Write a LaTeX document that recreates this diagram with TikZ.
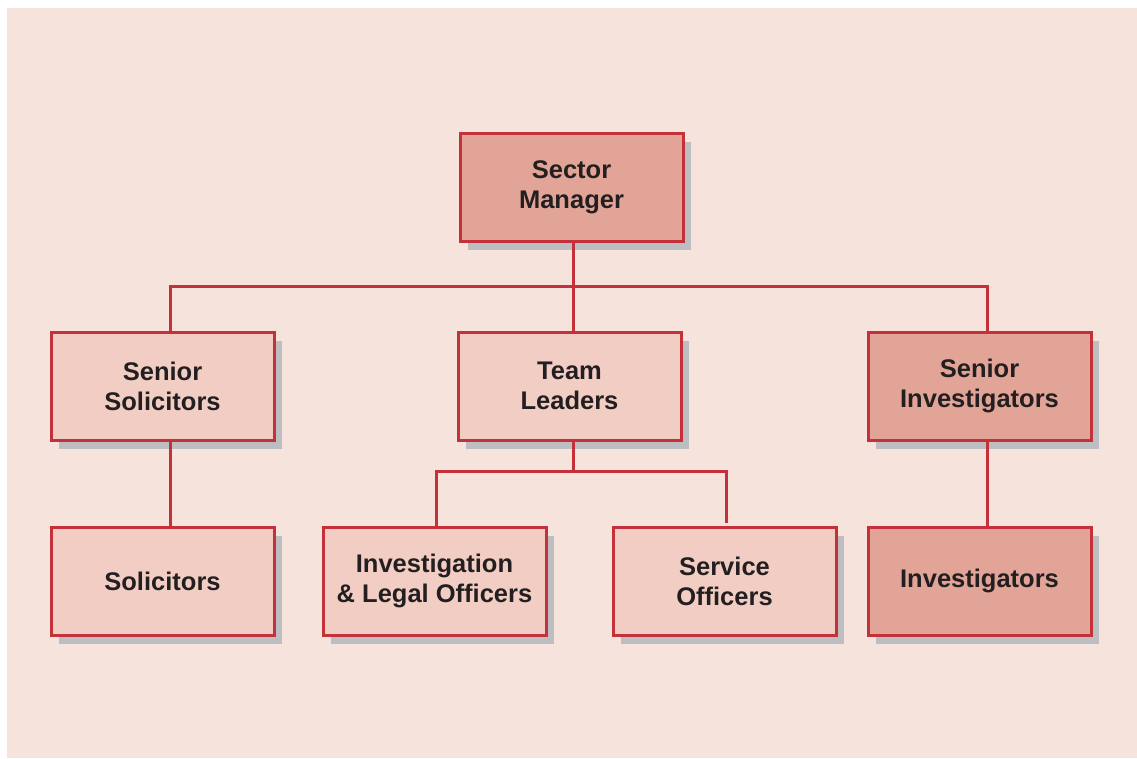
\documentclass[tikz,border=0pt]{standalone}
\usepackage{fontspec}
\setmainfont{Liberation Sans}
\usetikzlibrary{shadows}
\definecolor{bgpink}{HTML}{F5E3DC}
\definecolor{boxred}{HTML}{C4313B}
\definecolor{darkfill}{HTML}{E2A497}
\definecolor{lightfill}{HTML}{F2CDC3}
\definecolor{shadowgray}{HTML}{BCBEC2}
\definecolor{txt}{HTML}{231F20}
\tikzset{
  orgbox/.style={draw=boxred, line width=3pt, minimum width=223pt, minimum height=108pt,
    align=center, inner sep=0pt, text=txt,
    font=\fontsize{25.5}{30}\selectfont\bfseries,
    general shadow={fill=shadowgray, shadow xshift=8pt, shadow yshift=-9pt}},
  darkbox/.style={orgbox, fill=darkfill},
  lightbox/.style={orgbox, fill=lightfill},
  conn/.style={draw=boxred, line width=3pt}
}
\begin{document}
\begin{tikzpicture}[x=1pt,y=-1pt]
\useasboundingbox (0,0) rectangle (1137,758);
\fill[bgpink] (7,8) rectangle (1137,758);
\node[darkbox]  (sm)  at (571.5,187) {Sector\\Manager};
\node[lightbox] (ss)  at (162.5,386) {Senior\\Solicitors};
\node[lightbox] (tl)  at (569.5,386) {Team\\Leaders};
\node[darkbox]  (si)  at (979.5,386) {Senior\\Investigators};
\node[lightbox] (so)  at (162.5,581) {Solicitors};
\node[lightbox] (ilo) at (434.5,581) {Investigation\\\& Legal Officers};
\node[lightbox] (svo) at (724.5,581) {Service\\Officers};
\node[darkbox]  (inv) at (979.5,581) {Investigators};
\coordinate (j1) at (573,286);
\coordinate (j2) at (573,471);
\coordinate (svoend) at (726,523);
\draw[conn] ([xshift=1.5pt]sm.south) -- (j1);
\draw[conn] (j1) -| ([xshift=7.5pt]ss.north);
\draw[conn] (j1) -| ([xshift=7.5pt]si.north);
\draw[conn] (j1) -- (j1 |- tl.north);
\draw[conn] ([xshift=7.5pt]ss.south) -- ([xshift=7.5pt]so.north);
\draw[conn] ([xshift=7.5pt]si.south) -- ([xshift=7.5pt]inv.north);
\draw[conn] (j2 |- tl.south) -- (j2);
\draw[conn] (j2) -| ([xshift=1.5pt]ilo.north);
\draw[conn] (j2) -| (svoend);
\end{tikzpicture}
\end{document}
